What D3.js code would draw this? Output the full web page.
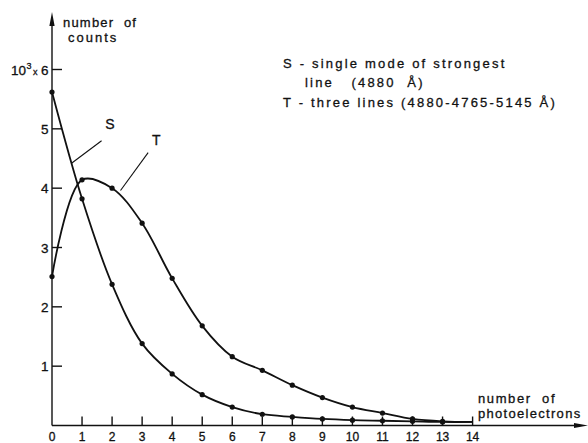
<!DOCTYPE html>
<html>
<head>
<meta charset="utf-8">
<script src="https://cdn.jsdelivr.net/npm/d3@7"></script>
<style>
  html, body { margin: 0; padding: 0; background: #fff; }
  svg text {
    font-family: "Liberation Sans", Arial, sans-serif;
    fill: #111;
    stroke: #111;
    stroke-width: 0.3px;
    white-space: pre;
  }
</style>
</head>
<body>
<div id="chart"></div>
<script>
var width = 588;
var height = 443;

// values (counts in units of 10^3)
var photoelectrons = [0, 1, 2, 3, 4, 5, 6, 7, 8, 9, 10, 11, 12, 13, 14];
var countsS = [5.62, 3.82, 2.38, 1.38, 0.87, 0.52, 0.31, 0.19, 0.145, 0.11, 0.09, 0.08, 0.07, 0.06, 0.06];
var countsT = [2.51, 4.14, 4.00, 3.41, 2.48, 1.68, 1.16, 0.93, 0.68, 0.47, 0.31, 0.21, 0.11, 0.07, 0.06];
var lastMarked = 13; // no dot drawn at 14, the curves just run out there

var xTicks = [0, 1, 2, 3, 4, 5, 6, 7, 8, 9, 10, 11, 12, 13, 14];
var yTicks = [1, 2, 3, 4, 5, 6];

var legendLines = [
    "S - single mode of strongest",
    "line   (4880  Å)",
    "T - three lines (4880-4765-5145 Å)"
];

// leader lines: label position and the point on the curve they touch (data units)
var leaders = [
    { name: "S", label: [1.93, 5.0], from: [1.65, 4.8], to: [0.65, 4.42] },
    { name: "T", label: [3.47, 4.72], from: [3.2, 4.6], to: [2.28, 3.96] }
];

var x = d3.scaleLinear().domain([0, 14]).range([52, 472.6]);
var y = d3.scaleLinear().domain([0, 6]).range([425.5, 69.5]);

var svg = d3.select("#chart")
    .append("svg")
    .attr("width", width)
    .attr("height", height);

// axes drawn by hand, like the original drawing
var axes = svg.append("g")
    .attr("stroke", "#111")
    .attr("stroke-width", 1.4)
    .attr("fill", "none");

axes.append("line")
    .attr("x1", x(0)).attr("y1", y(0))
    .attr("x2", x(0)).attr("y2", 20);
axes.append("line")
    .attr("x1", x(0)).attr("y1", y(0))
    .attr("x2", 580).attr("y2", y(0));

// arrow heads
svg.append("path")
    .attr("d", `M${x(0)},12 L${x(0) - 2.6},26 L${x(0) + 2.6},26 Z`)
    .attr("fill", "#111");
svg.append("path")
    .attr("d", `M588,${y(0)} L574,${y(0) - 2.6} L574,${y(0) + 2.6} Z`)
    .attr("fill", "#111");

// x ticks point up from the axis
axes.selectAll(".xt")
    .data(xTicks.filter(d => d > 0))
    .enter()
    .append("line")
    .attr("x1", d => x(d)).attr("x2", d => x(d))
    .attr("y1", y(0)).attr("y2", y(0) - 9);

svg.selectAll(".xl")
    .data(xTicks)
    .enter()
    .append("text")
    .attr("x", d => x(d))
    .attr("y", 441)
    .attr("text-anchor", "middle")
    .style("font-size", "12px")
    .text(d => d);

// y ticks point right
axes.selectAll(".yt")
    .data(yTicks)
    .enter()
    .append("line")
    .attr("x1", x(0)).attr("x2", x(0) + 10)
    .attr("y1", d => y(d)).attr("y2", d => y(d));

svg.selectAll(".yl")
    .data(yTicks.filter(d => d < 6))
    .enter()
    .append("text")
    .attr("x", 48.5)
    .attr("y", d => y(d) + 5)
    .attr("text-anchor", "end")
    .style("font-size", "13.5px")
    .text(d => d);

var topLabel = svg.append("text")
    .attr("x", 48.5)
    .attr("y", y(6) + 5)
    .attr("text-anchor", "end")
    .style("font-size", "13.5px");
topLabel.append("tspan").text("10");
topLabel.append("tspan").attr("dy", -5.5).attr("dx", 0.5).style("font-size", "9px").text("3");
topLabel.append("tspan").attr("dy", 5.5).attr("dx", 1.5).style("font-size", "9px").text("x");
topLabel.append("tspan").attr("dx", 3.5).text("6");

// axis titles
svg.append("text")
    .attr("x", 63).attr("y", 26.5)
    .style("font-size", "13px")
    .style("letter-spacing", "1.2px")
    .text("number  of");
svg.append("text")
    .attr("x", 68).attr("y", 41.5)
    .style("font-size", "13px")
    .style("letter-spacing", "2px")
    .text("counts");

svg.append("text")
    .attr("x", 478).attr("y", 403)
    .style("font-size", "13px")
    .style("letter-spacing", "1.6px")
    .text("number  of");
svg.append("text")
    .attr("x", 478).attr("y", 418)
    .style("font-size", "13px")
    .style("letter-spacing", "1.3px")
    .text("photoelectrons");

// legend block
svg.selectAll(".leg")
    .data(legendLines)
    .enter()
    .append("text")
    .attr("x", (d, i) => i === 1 ? 305 : 283)
    .attr("y", (d, i) => [68, 87, 107][i])
    .style("font-size", "13px")
    .style("letter-spacing", "2.2px")
    .text(d => d);

// curves
var line = d3.line()
    .x(d => x(d[0]))
    .y(d => y(d[1]))
    .curve(d3.curveCatmullRom.alpha(0.5));

var series = [
    photoelectrons.map((p, i) => [p, countsS[i]]),
    photoelectrons.map((p, i) => [p, countsT[i]])
];

svg.append("g")
    .selectAll("path")
    .data(series)
    .enter()
    .append("path")
    .attr("d", line)
    .attr("fill", "none")
    .attr("stroke", "#111")
    .attr("stroke-width", 1.8);

svg.append("g")
    .selectAll("circle")
    .data(series.flatMap(s => s.filter(d => d[0] <= lastMarked)))
    .enter()
    .append("circle")
    .attr("cx", d => x(d[0]))
    .attr("cy", d => y(d[1]))
    .attr("r", 2.6)
    .attr("fill", "#111");

// S and T labels with their leader lines
svg.selectAll(".ldr")
    .data(leaders)
    .enter()
    .append("line")
    .attr("x1", d => x(d.from[0])).attr("y1", d => y(d.from[1]))
    .attr("x2", d => x(d.to[0])).attr("y2", d => y(d.to[1]))
    .attr("stroke", "#111")
    .attr("stroke-width", 1.1);

svg.selectAll(".ldl")
    .data(leaders)
    .enter()
    .append("text")
    .attr("x", d => x(d.label[0]))
    .attr("y", d => y(d.label[1]))
    .attr("text-anchor", "middle")
    .style("font-size", "14px")
    .text(d => d.name);
</script>
</body>
</html>
